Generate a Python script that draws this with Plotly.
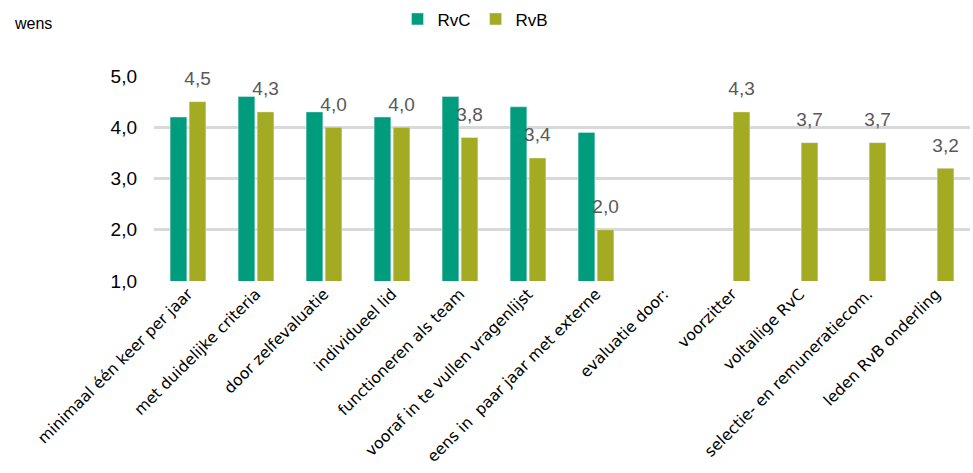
import plotly.graph_objects as go

categories = [
    "minimaal één keer per jaar",
    "met duidelijke criteria",
    "door zelfevaluatie",
    "individueel lid",
    "functioneren als team",
    "vooraf in te vullen vragenlijst",
    "eens in  paar jaar met externe",
    "evaluatie door:",
    "voorzitter",
    "voltallige RvC",
    "selectie- en remuneratiecom.",
    "leden RvB onderling",
]
rvc_values = [4.2, 4.6, 4.3, 4.2, 4.6, 4.4, 3.9, None, None, None, None, None]
rvb_values = [4.5, 4.3, 4.0, 4.0, 3.8, 3.4, 2.0, None, 4.3, 3.7, 3.7, 3.2]
y_ticks = [1.0, 2.0, 3.0, 4.0, 5.0]

NUM_FONT = "Liberation Sans, Arial, sans-serif"

def fmt(v):
    if v is None:
        return ""
    return "<span style='font-size:19px'>" + f"{v:.1f}".replace(".", ",") + "</span><br> "

fig = go.Figure()
fig.add_trace(go.Bar(
    x=categories, y=rvc_values, name="RvC",
    marker=dict(color="#009C7E"),
))
fig.add_trace(go.Bar(
    x=categories, y=rvb_values, name="RvB",
    marker=dict(color="#A3AB23"),
    text=[fmt(v) for v in rvb_values],
    textposition="outside",
    constraintext="none",
    textfont=dict(size=9, color="#595959", family=NUM_FONT),
    cliponaxis=False,
))

fig.update_layout(
    width=973, height=473,
    margin=dict(l=154, r=3, t=75, b=192),
    paper_bgcolor="white", plot_bgcolor="white",
    separators=",.",
    barmode="group",
    bargap=0.44,
    bargroupgap=0.12,
    showlegend=True,
    legend=dict(
        orientation="h", x=0.394, xanchor="center", y=1.27, yanchor="middle",
        font=dict(size=17, color="#000000", family=NUM_FONT),
        itemwidth=30, traceorder="normal",
    ),
    annotations=[dict(
        text="wens", xref="paper", yref="paper", x=-142/816, y=1 + 53/206,
        xanchor="left", yanchor="middle", showarrow=False,
        font=dict(size=16, color="#000000", family=NUM_FONT),
    )],
)
fig.update_yaxes(
    range=[1, 5], tickvals=y_ticks, tickformat=".1f",
    showgrid=True, gridcolor="#D9D9D9", gridwidth=2.5,
    zeroline=False, showline=False, ticks="",
    tickfont=dict(size=19, color="#000000", family=NUM_FONT),
    ticklabelstandoff=16, automargin=False,
)
fig.update_xaxes(
    tickangle=-45, showline=False, ticks="", automargin=False,
    tickfont=dict(size=15.6, color="#000000", family="DejaVu Sans, sans-serif"),
)

fig.write_html("out.html")
